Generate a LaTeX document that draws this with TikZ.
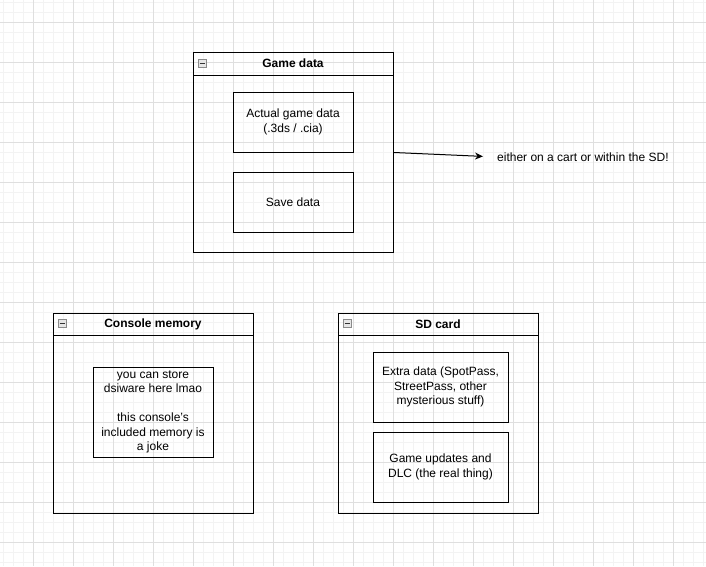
\documentclass[tikz,border=0pt]{standalone}
\usepackage{fontspec}
\setmainfont{Liberation Sans}
\usetikzlibrary{arrows.meta, positioning}
\definecolor{gridminor}{HTML}{F3F3F3}
\definecolor{gridmajor}{HTML}{DFDFDF}
\definecolor{btngray}{HTML}{8A8A8A}
\definecolor{btnfill}{HTML}{E6E6E6}
\tikzstyle{container}=[draw=black,line width=1pt,minimum width=200pt,minimum height=200pt,inner sep=0pt,anchor=north west]
\tikzstyle{header}=[font=\fontsize{12}{14.5}\selectfont\bfseries,inner sep=0pt]
\tikzstyle{btn}=[draw=btngray,fill=btnfill,line width=0.8pt,minimum size=8pt,inner sep=0pt,
  path picture={\draw[black!80,line width=1pt] ([xshift=1.5pt]path picture bounding box.west) -- ([xshift=-1.5pt]path picture bounding box.east);}]
\tikzstyle{item}=[draw=black,line width=1pt,align=center,inner sep=0pt,font=\fontsize{12}{14.5}\selectfont]
\tikzstyle{note}=[inner sep=0pt,font=\fontsize{12}{14.5}\selectfont]
\tikzstyle{mainedge}=[-{Stealth[length=8pt,width=7pt]},line width=1pt]

\begin{document}
\begin{tikzpicture}[x=1pt,y=-1pt]
\useasboundingbox (0,0) rectangle (706,566);

% grid
\foreach \x in {3,13,...,703} \draw[gridminor,line width=1pt] (\x,0) -- (\x,566);
\foreach \y in {2,12,...,562} \draw[gridminor,line width=1pt] (0,\y) -- (706,\y);
\foreach \x in {33,73,...,673} \draw[gridmajor,line width=1pt] (\x,0) -- (\x,566);
\foreach \y in {22,62,...,542} \draw[gridmajor,line width=1pt] (0,\y) -- (706,\y);

% game data
\node[container] (game) at (193,52) {};
\draw[line width=1pt] ([yshift=-23pt]game.north west) -- ([yshift=-23pt]game.north east);
\node[btn]    (game_btn)  at (202,63) {};
\node[header] (game_head) at (293,63.5) {Game data};
\node[item,minimum width=120pt,minimum height=60pt] (actual) at (293,122) {Actual game data\\(.3ds / .cia)};
\node[item,minimum width=120pt,minimum height=60pt] (save)   at (293,202) {Save data};

% where it lives
\node[note,anchor=west] (where) at (497,157) {either on a cart or within the SD!};
\draw[mainedge,shorten >=14pt] (game.east) -- (where.west);

% console memory
\node[container] (console) at (53,312.5) {};
\draw[line width=1pt] ([yshift=-22.5pt]console.north west) -- ([yshift=-22.5pt]console.north east);
\node[btn]    (console_btn)  at (62,323.5) {};
\node[header] (console_head) at (153,324) {Console memory};
\node[item,minimum width=120pt,minimum height=90pt] (dsiware) at (153,412)
  {you can store\\dsiware here lmao\\[14.5pt]this console's\\included memory is\\a joke};

% sd card
\node[container] (sd) at (338,312.5) {};
\draw[line width=1pt] ([yshift=-22.5pt]sd.north west) -- ([yshift=-22.5pt]sd.north east);
\node[btn]    (sd_btn)  at (347,323.5) {};
\node[header] (sd_head) at (438,324) {SD card};
\node[item,minimum width=135pt,minimum height=70pt] (extra)   at (440.5,387) {Extra data (SpotPass,\\StreetPass, other\\mysterious stuff)};
\node[item,minimum width=135pt,minimum height=70pt] (updates) at (440.5,467) {Game updates and\\DLC (the real thing)};

\end{tikzpicture}
\end{document}
